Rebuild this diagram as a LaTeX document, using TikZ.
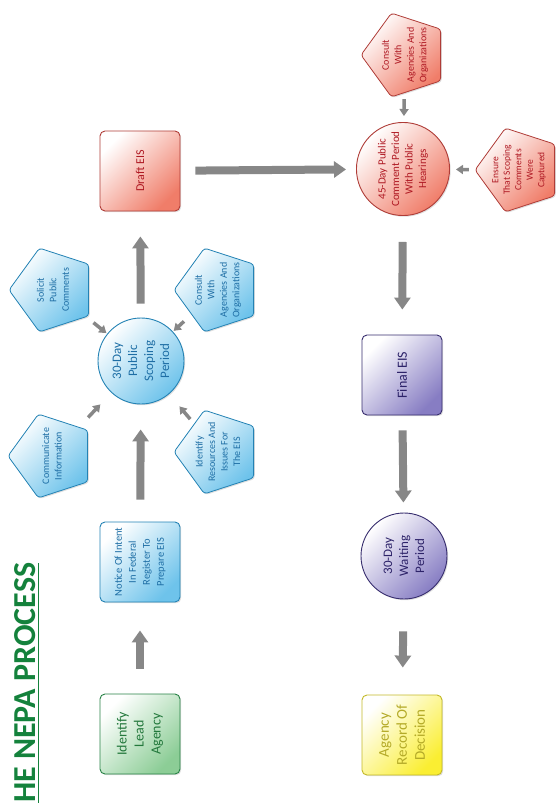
\documentclass[tikz,border=0pt]{standalone}
\usepackage{fontspec}
\setmainfont{Carlito}
\usetikzlibrary{arrows.meta,shapes.geometric,shadows}
\definecolor{titlegreen}{RGB}{20,130,60}
\definecolor{greenline}{RGB}{40,130,70}  \definecolor{greenfill}{RGB}{140,205,150} \definecolor{greentext}{RGB}{35,120,60}
\definecolor{blueline}{RGB}{35,130,180}  \definecolor{bluefill}{RGB}{110,195,235}  \definecolor{bluetext}{RGB}{30,110,165}
\definecolor{redline}{RGB}{175,60,55}    \definecolor{redfill}{RGB}{240,125,105}   \definecolor{redtext}{RGB}{175,25,35}
\definecolor{purpleline}{RGB}{55,45,110} \definecolor{purplefill}{RGB}{135,125,195}\definecolor{purpletext}{RGB}{45,35,105}
\definecolor{yellowline}{RGB}{195,185,40}\definecolor{yellowfill}{RGB}{250,238,50} \definecolor{yellowtext}{RGB}{180,170,40}
\definecolor{arrowgray}{RGB}{135,135,135}
\tikzset{
  shadefill/.style={top color=#1fill, bottom color=white, shading angle=-135, draw=#1line, text=#1text,
    drop shadow={shadow xshift=1.2pt, shadow yshift=-1.2pt, opacity=0.25}},
  stepbox/.style={shadefill=#1, line width=0.9pt, rounded corners=5pt, minimum size=80pt, inner sep=2pt},
  stepcircle/.style={shadefill=#1, circle, line width=0.9pt, minimum size=86pt, inner sep=1pt},
  stepgon/.style={shadefill=#1, regular polygon, regular polygon sides=5, line width=0.8pt,
    minimum size=88pt, inner sep=-6pt, rounded corners=3pt, font=\fontsize{10}{12.5}\selectfont},
  bigarrow/.style={draw=arrowgray, line width=8pt, -{Triangle[width=16pt,length=12pt]}},
  smallarrow/.style={draw=arrowgray, line width=3.5pt, -{Triangle[width=9pt,length=7pt]}}
}
\begin{document}
\begin{tikzpicture}[x=1pt,y=-1pt, every node/.style={align=center,rotate=90}]
  \useasboundingbox (0,0) rectangle (556,803);
  % title
  \node[anchor=west, inner sep=0pt, text=titlegreen, font=\fontsize{32}{34}\selectfont\bfseries] (title) at (25,803) {HE NEPA PROCESS};
  \draw[titlegreen, line width=1pt] ([xshift=3pt]title.south west) -- ([xshift=3pt]title.south east);
  % left column
  \node[stepbox=green, font=\fontsize{14}{17}\selectfont] (lead) at (140,734) {Identify\\Lead\\Agency};
  \node[stepbox=blue, font=\fontsize{10.5}{14}\selectfont] (notice) at (140,562) {Notice Of Intent\\In Federal\\Register To\\Prepare EIS};
  \node[stepcircle=blue, font=\fontsize{13}{16}\selectfont] (scoping) at (141,361) {30-Day\\Public\\Scoping\\Period};
  \node[stepgon=blue] (inform) at (52,456) {Communicate\\Information};
  \node[stepgon=blue] (solicit) at (53,290) {Solicit\\Public\\Comments};
  \node[stepgon=blue] (consultA) at (218,290) {Consult\\With\\Agencies And\\Organizations};
  \node[stepgon=blue] (issues) at (218,452) {Identify\\Resources And\\Issues For\\The EIS};
  \node[stepbox=red, font=\fontsize{12}{14}\selectfont] (draft) at (140,171) {Draft EIS};
  % right column
  \node[stepcircle=red, font=\fontsize{11}{13.5}\selectfont] (comment) at (403,169) {45-Day Public\\Comment Period\\With Public\\Hearings};
  \node[stepgon=red] (consultB) at (405,55) {Consult\\With\\Agencies And\\Organizations};
  \node[stepgon=red, font=\fontsize{9.5}{11.5}\selectfont] (ensure) at (519,170) {Ensure\\That Scoping\\Comments\\Were\\Captured};
  \node[stepbox=purple, font=\fontsize{14}{17}\selectfont] (final) at (402,375) {Final EIS};
  \node[stepcircle=purple, font=\fontsize{13}{16}\selectfont] (waiting) at (404,556) {30-Day\\Waiting\\Period};
  \node[stepbox=yellow, font=\fontsize{15}{18}\selectfont] (decision) at (402,735) {Agency\\Record Of\\Decision};
  % flow
  \draw[bigarrow, shorten <=25pt, shorten >=28pt] (lead) -- (notice);
  \draw[bigarrow, shorten <=22pt, shorten >=25pt] (notice) -- (scoping);
  \draw[bigarrow, shorten <=14pt, shorten >=25pt] (scoping) -- (draft);
  \draw[bigarrow, shorten <=15pt, shorten >=10pt] (draft) -- (comment);
  \draw[bigarrow, shorten <=26pt, shorten >=25pt] (comment) -- (final);
  \draw[bigarrow, shorten <=15pt, shorten >=10pt] (final) -- (waiting);
  \draw[bigarrow, shorten <=32pt, shorten >=27pt] (waiting) -- (decision);
  \draw[smallarrow, shorten <=9pt, shorten >=1pt] (solicit) -- (scoping);
  \draw[smallarrow, shorten <=10pt, shorten >=1pt] (consultA) -- (scoping);
  \draw[smallarrow, shorten <=13pt, shorten >=16pt] (inform) -- (scoping);
  \draw[smallarrow, shorten <=6pt, shorten >=16pt] (issues) -- (scoping);
  \draw[smallarrow, shorten <=6pt, shorten >=6pt] (consultB) -- (comment);
  \draw[smallarrow, shorten <=6pt, shorten >=6pt] (ensure) -- (comment);
\end{tikzpicture}
\end{document}
